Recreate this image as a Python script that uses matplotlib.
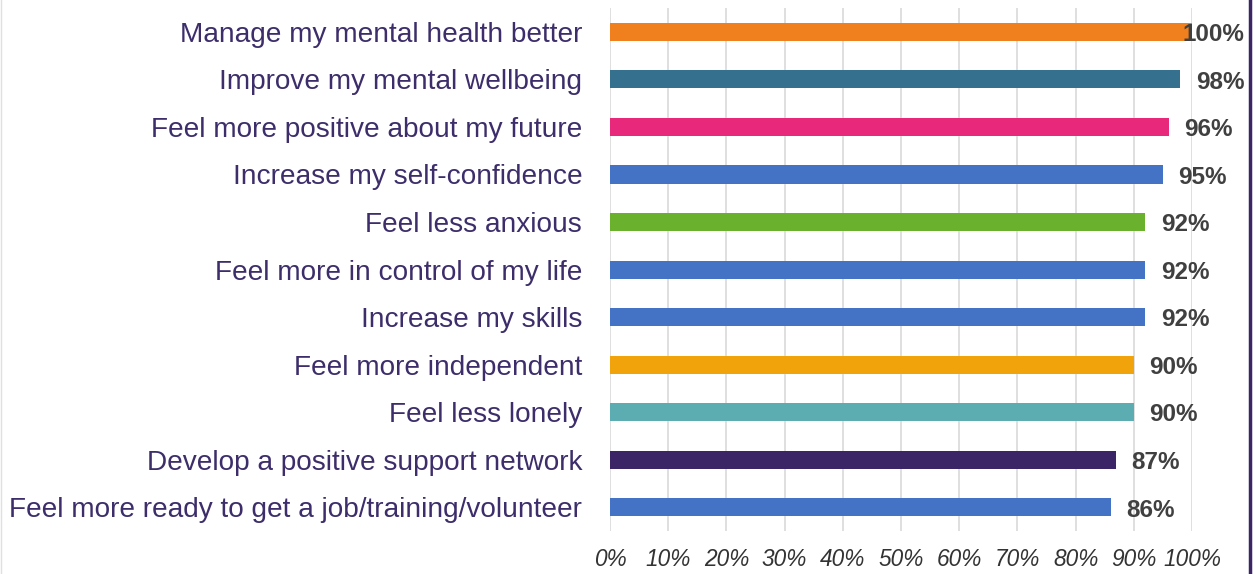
import matplotlib.pyplot as plt
from matplotlib.lines import Line2D

# Données
labels = [
    "Manage my mental health better",
    "Improve my mental wellbeing",
    "Feel more positive about my future",
    "Increase my self-confidence",
    "Feel less anxious",
    "Feel more in control of my life",
    "Increase my skills",
    "Feel more independent",
    "Feel less lonely",
    "Develop a positive support network",
    "Feel more ready to get a job/training/volunteer",
]
values = [100, 98, 96, 95, 92, 92, 92, 90, 90, 87, 86]
colors = ["#F07F1E", "#35708F", "#E8297B", "#4472C4", "#6AB22E", "#4472C4",
          "#4472C4", "#F0A30B", "#5BADB1", "#3B2566", "#4472C4"]
ticks = [0, 10, 20, 30, 40, 50, 60, 70, 80, 90, 100]

plt.rcParams['font.family'] = ['Liberation Sans', 'DejaVu Sans']

fig = plt.figure(figsize=(12.57, 5.74), dpi=100)
ax = fig.add_axes([0.4853, 0.0749, 0.463, 0.911])

pos = list(range(len(labels)))
ax.barh(pos, values, height=0.38, color=colors, zorder=3)
ax.set_ylim(len(labels) - 0.5, -0.5)
ax.set_xlim(0, 100)

# étiquettes de valeur
for p, v in zip(pos, values):
    dx = -7 if v >= 100 else 11
    ax.annotate(f"{v}%", (v, p), xytext=(dx, -2), textcoords="offset points",
                va="center", ha="left", fontsize=17.5, fontweight="bold",
                color="#404040", zorder=4)

ax.set_yticks(pos)
ax.set_yticklabels(labels, fontsize=20.2, color="#3D2E6B")
ax.set_xticks(ticks)
ax.set_xticklabels([f"{t}%" for t in ticks], fontsize=16.3, style="italic",
                   color="#333333")
ax.tick_params(axis="both", length=0)
ax.tick_params(axis="y", pad=20)
ax.tick_params(axis="x", pad=12)
ax.grid(axis="x", color="#D9D9D9", linewidth=1.2, zorder=0)
for s in ax.spines.values():
    s.set_visible(False)

# cadre
fig.add_artist(Line2D([0.9945, 0.9945], [0, 1], transform=fig.transFigure,
                      color="#3B2566", linewidth=2.5))
fig.add_artist(Line2D([0.0008, 0.0008], [0, 1], transform=fig.transFigure,
                      color="#E0E0E0", linewidth=1))

plt.savefig("out.png", dpi=100)
